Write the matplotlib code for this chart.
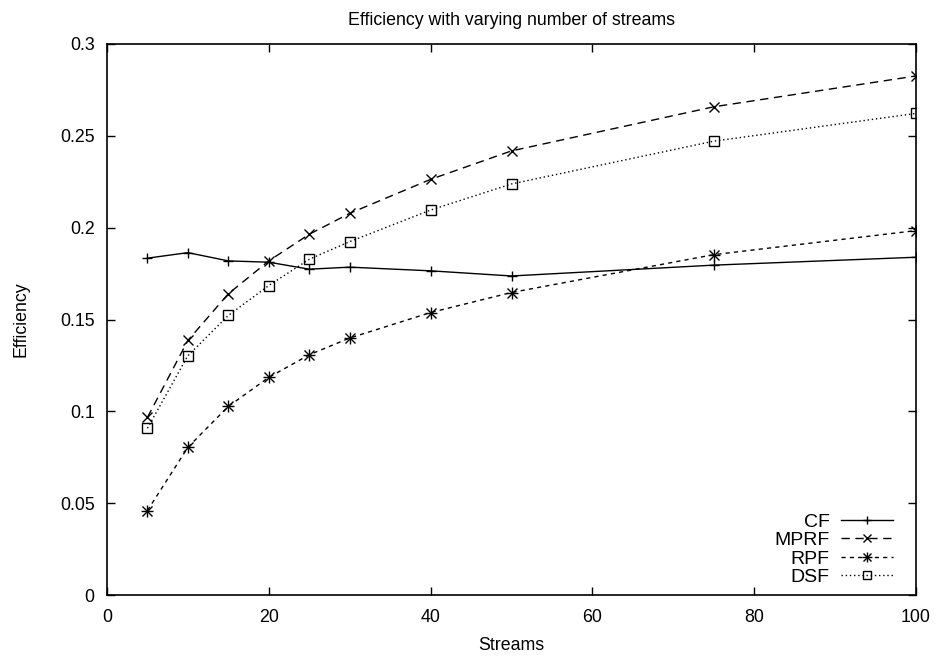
import matplotlib
matplotlib.use("Agg")
import matplotlib.pyplot as plt
from matplotlib.legend_handler import HandlerTuple

plt.rcParams['font.family'] = ['Liberation Sans', 'DejaVu Sans']

streams = [5, 10, 15, 20, 25, 30, 40, 50, 75, 100]
cf   = [0.1834, 0.1864, 0.1819, 0.1812, 0.1774, 0.1785, 0.1765, 0.1737, 0.1796, 0.1839]
mprf = [0.0967, 0.1386, 0.1640, 0.1819, 0.1964, 0.2078, 0.2263, 0.2418, 0.2658, 0.2826]
rpf  = [0.0460, 0.0804, 0.1027, 0.1185, 0.1308, 0.1399, 0.1538, 0.1647, 0.1853, 0.1984]
dsf  = [0.0908, 0.1303, 0.1522, 0.1685, 0.1828, 0.1924, 0.2096, 0.2238, 0.2471, 0.2622]

xticks = [0, 20, 40, 60, 80, 100]
yticks = [0, 0.05, 0.1, 0.15, 0.2, 0.25, 0.3]
ytick_labels = ['0', '0.05', '0.1', '0.15', '0.2', '0.25', '0.3']

fs = 12.8
fig = plt.figure(figsize=(9.38, 6.56), dpi=100)
ax = fig.add_axes([107 / 938, 61 / 656, 809 / 938, 551 / 656])

lw = 1.0
ms = 7
h_cf, = ax.plot(streams, cf, color='black', lw=lw, ls='-', marker='+',
                ms=ms, mew=1.0)
h_mprf, = ax.plot(streams, mprf, color='black', lw=lw, ls=(0, (6, 4)),
                  marker='x', ms=ms, mew=1.0)
h_rpf_a, = ax.plot(streams, rpf, color='black', lw=lw, ls=(0, (3, 3)),
                   marker='x', ms=ms, mew=1.0)
h_rpf_b, = ax.plot(streams, rpf, color='black', lw=0, ls='none',
                   marker='+', ms=ms + 1, mew=1.0)
h_dsf, = ax.plot(streams, dsf, color='black', lw=lw, ls=(0, (1, 2)),
                 marker='s', ms=ms, mew=1.0, mfc='none')

ax.set_xlim(0, 100)
ax.set_ylim(0, 0.3)
ax.set_xticks(xticks)
ax.set_xticklabels([str(t) for t in xticks], fontsize=fs)
ax.set_yticks(yticks)
ax.set_yticklabels(ytick_labels, fontsize=fs)
ax.tick_params(direction='in', length=6, width=1, top=True, right=True)
ax.tick_params(axis='x', pad=10)
ax.tick_params(axis='y', pad=9)
for s in ax.spines.values():
    s.set_linewidth(1.2)

ax.set_title('Efficiency with varying number of streams', fontsize=fs, pad=14)
ax.set_xlabel('Streams', fontsize=fs, labelpad=8)
ax.set_ylabel('Efficiency', fontsize=fs, labelpad=22)

ax.legend([h_cf, h_mprf, (h_rpf_a, h_rpf_b), h_dsf],
          ['CF', 'MPRF', 'RPF', 'DSF'],
          handler_map={tuple: HandlerTuple(ndivide=1)},
          loc='lower right', bbox_to_anchor=(1 - 23 / 809, 9 / 551),
          frameon=False, markerfirst=False, markerscale=0.85,
          fontsize=14, handlelength=2.7, handletextpad=0.55,
          labelspacing=0.04, borderaxespad=0.0, borderpad=0.0)

fig.savefig('out.png', dpi=100)
